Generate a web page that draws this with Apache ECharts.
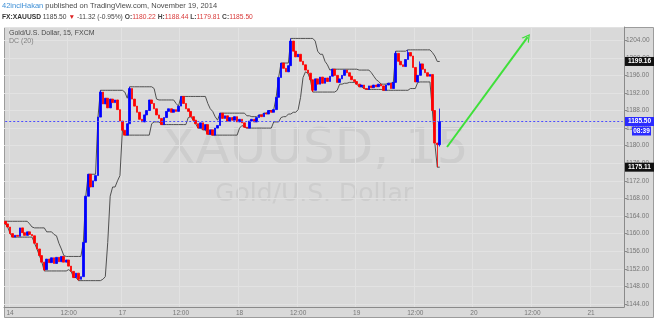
<!DOCTYPE html>
<html><head><meta charset="utf-8">
<script src="https://cdn.jsdelivr.net/npm/echarts@6/dist/echarts.min.js"></script>
<style>html,body{margin:0;padding:0;background:#fff}#c{width:654px;height:321px}</style>
</head><body><div id="c"></div><script>
// ---- data (30-minute bars, FX:XAUUSD) ----
const firstOpen = 1162.8;
const closes = [
 1162.2,1161.5,1160.0,1159.2,1159.6,1159.4,1161.3,1160.2,1159.6,1160.4,
 1159.8,1159.5,1157.8,1156.5,1155.0,1153.5,1151.8,1154.2,1153.4,1154.5,
 1153.2,1154.6,1153.6,1154.8,1153.5,1154.0,1152.6,1151.4,1150.0,1151.0,
 1149.6,1150.2,1158.0,1168.5,1173.5,1170.6,1172.0,1173.2,1186.5,1192.2,
 1189.5,1190.8,1188.6,1190.6,1189.8,1190.4,1188.2,1185.6,1183.5,1182.4,
 1185.0,1193.0,1190.6,1189.0,1187.6,1186.0,1185.4,1187.0,1188.0,1190.4,
 1189.6,1188.4,1187.0,1186.2,1184.8,1186.4,1187.8,1188.4,1187.6,1188.2,
 1187.8,1189.0,1191.2,1189.6,1188.4,1187.8,1186.6,1185.8,1185.0,1184.0,
 1185.2,1183.6,1184.8,1182.6,1183.6,1182.4,1184.0,1184.6,1187.4,1186.2,
 1186.8,1185.6,1186.4,1185.8,1186.6,1185.4,1186.0,1185.2,1184.2,1184.0,
 1185.6,1186.0,1185.4,1186.4,1187.0,1186.6,1187.4,1187.2,1188.0,1187.6,
 1188.2,1191.0,1195.5,1198.8,1197.6,1196.8,1198.2,1203.8,1201.5,1200.2,
 1200.8,1199.2,1198.4,1197.2,1196.5,1195.0,1192.6,1195.2,1194.0,1195.6,
 1194.2,1195.4,1194.6,1195.8,1197.4,1196.0,1194.4,1195.2,1196.0,1197.2,
 1196.6,1195.8,1195.0,1194.6,1194.0,1193.4,1193.8,1193.0,1192.8,1193.6,
 1193.2,1193.8,1193.4,1194.0,1193.6,1192.6,1193.8,1194.2,1193.0,1194.4,
 1201.0,1199.2,1198.4,1198.0,1199.6,1201.2,1200.4,1197.8,1194.5,1196.0,
 1198.6,1197.4,1196.6,1195.8,1196.2,1188.0,1180.6,1180.22,1185.5
];
// notable wick extremes [barIndex, price]
const wickHighs = [[39,1192.6],[51,1193.4],[117,1204.4],[160,1201.5],[165,1201.8],[170,1199.16],[178,1188.44]];
const wickLows  = [[16,1151.5],[30,1149.3],[126,1192.2],[177,1175.11],[178,1179.81]];
const dcPeriod = 10;            // DC(20) on 15-minute bars = 10 thirty-minute bars
const lastPrice = 1185.50;
const countdown = '08:39';
const arrowStart = [181, 1179.7];
const arrowEnd   = [214, 1204.7];
const yMin = 1143.3, yMax = 1207.0, yStep = 4;
const headerUser = '42inciHakan';
const headerPub = ' published on TradingView.com, November 19, 2014';
const quote = {sym:'FX:XAUUSD', last:'1185.50', chg:'-11.32 (-0.95%)', o:'1180.22', h:'1188.44', l:'1179.81', c:'1185.50'};
const panelTitle = 'Gold/U.S. Dollar, 15, FXCM';
const indicatorTitle = 'DC (20)';
const watermark1 = 'XAUUSD, 15';
const watermark2 = 'Gold/U.S. Dollar';

// ---- time slots ----
const sessionStart = Date.UTC(2014,10,13,23,0);
const weekendClose = Date.UTC(2014,10,14,21,30);
const weekendOpen  = Date.UTC(2014,10,16,23,0);
const barMs = 30*60000, slotCount = 254;
const times = []; let t = sessionStart;
for (let k=0;k<slotCount;k++){ times.push(t); t += barMs; if (t > weekendClose && t < weekendOpen) t = weekendOpen; }
const cats = times.map(String);
function slotLabel(i){ const d=new Date(times[i]); const h=d.getUTCHours(), m=d.getUTCMinutes();
  if(h===0&&m===0) return String(d.getUTCDate()); if(h===12&&m===0) return '12:00'; return ''; }

// ---- OHLC ----
const opens = closes.map((c,i)=> i===0 ? firstOpen : closes[i-1]);
const highs = closes.map((c,i)=> Math.max(c, opens[i]));
const lows  = closes.map((c,i)=> Math.min(c, opens[i]));
wickHighs.forEach(([i,v])=>{ highs[i]=Math.max(highs[i],v); });
wickLows.forEach(([i,v])=>{ lows[i]=Math.min(lows[i],v); });
const ohlc = closes.map((c,i)=>[opens[i], c, lows[i], highs[i]]);
const dcUp=[], dcLo=[];
for(let i=0;i<closes.length;i++){ const s=Math.max(0,i-dcPeriod+1);
  dcUp.push(Math.max(...highs.slice(s,i+1))); dcLo.push(Math.min(...lows.slice(s,i+1))); }

const FONT = 'Liberation Sans, Arial, sans-serif';
const chart = echarts.init(document.getElementById('c'));
const chevron = 'path://M0,10 L5,0 L10,10 L8.4,10 L5,3.2 L1.6,10 Z';
const priceLineStyle = {color:'#4d4dff',type:[2,2],width:1,opacity:1};
chart.setOption({
  animation:false,
  grid:{left:4,right:30,top:27,bottom:14,backgroundColor:'transparent'},
  xAxis:{type:'category',data:cats,boundaryGap:true,
    axisLine:{lineStyle:{color:'#8a8a8a'}},axisTick:{show:false},
    axisLabel:{interval:(i)=>slotLabel(i)!=='',formatter:(v,i)=>slotLabel(i),color:'#777',fontSize:6.5,fontFamily:FONT,margin:3},
    splitLine:{show:true,interval:(i)=>slotLabel(i)!=='',lineStyle:{color:'#e2e2e2',width:1}}},
  yAxis:{type:'value',position:'right',min:yMin,max:yMax,minInterval:yStep,maxInterval:yStep,scale:true,
    axisLine:{show:true,lineStyle:{color:'#8a8a8a'}},axisTick:{show:true,length:3,lineStyle:{color:'#8a8a8a'}},
    axisLabel:{showMinLabel:false,showMaxLabel:false,formatter:v=>v.toFixed(2),color:'#777',fontSize:6.5,fontFamily:FONT,margin:2},
    splitLine:{show:true,lineStyle:{color:'#e2e2e2',width:1}}},
  series:[
    {type:'line',data:dcUp,symbol:'none',color:'#505050',lineStyle:{color:'#505050',width:1},z:3,silent:true},
    {type:'line',data:dcLo,symbol:'none',color:'#505050',lineStyle:{color:'#505050',width:1},z:3,silent:true},
    {type:'candlestick',data:ohlc,barWidth:2.2,z:4,
      itemStyle:{color:'#0000ff',color0:'#ff0000',borderColor:'#0000ff',borderColor0:'#ff0000',borderWidth:0.8},
      markLine:{silent:true,animation:false,symbol:'none',label:{show:false},
        data:[
          [{coord:[0,lastPrice],symbol:'none',lineStyle:priceLineStyle,itemStyle:{color:'#4d4dff'}},
           {coord:[cats.length-1,lastPrice],symbol:'none',lineStyle:priceLineStyle,itemStyle:{color:'#4d4dff'}}],
          [{coord:arrowStart,symbol:'none',lineStyle:{color:'#3fe03a',width:2,type:'solid'}},
           {coord:arrowEnd,symbol:chevron,symbolSize:[9,8],lineStyle:{color:'#3fe03a',width:2,type:'solid'}}]
        ]}}
  ]
});

const yOf = v => chart.convertToPixel({yAxisIndex:0}, v);
const yTop = yOf(yMax), yBot = yOf(yMin);
function tag(v, bg, txt){ const y=yOf(v); return [
  {type:'rect',shape:{x:625,y:y-4.5,width:29,height:9},style:{fill:bg},z:20},
  {type:'text',x:639.5,y:y,style:{text:txt,fill:'#fff',font:'bold 6.5px '+FONT,textAlign:'center',textVerticalAlign:'middle'},z:21}]; }
const last = closes.length-1;
const g = [
  {type:'rect',shape:{x:4.5,y:yTop+0.5,width:649,height:290},style:{fill:'#d9d9d9',stroke:'#9c9c9c',lineWidth:1},z:-20},
  {type:'text',x:315,y:150,style:{text:watermark1,fill:'#cdcdcd',font:'50px DejaVu Sans',textAlign:'center',textVerticalAlign:'middle'},z:-10},
  {type:'text',x:314,y:194,style:{text:watermark2,fill:'#cdcdcd',font:'25px DejaVu Sans',textAlign:'center',textVerticalAlign:'middle'},z:-10},
  {type:'text',x:9,y:yTop+6,style:{text:panelTitle,fill:'#4a4a4a',font:'7px '+FONT,textVerticalAlign:'middle'},z:10},
  {type:'text',x:9,y:yTop+14,style:{text:indicatorTitle,fill:'#808080',font:'7px '+FONT,textVerticalAlign:'middle'},z:10},
  {type:'text',x:2,y:6,style:{text:'{u|'+headerUser+'}{p|'+headerPub+'}',textVerticalAlign:'middle',
     rich:{u:{fill:'#3d8fd6',font:'7.5px '+FONT},p:{fill:'#4a4a4a',font:'7.5px '+FONT}}},z:10},
  {type:'text',x:2,y:17,style:{text:'{s|'+quote.sym+' }{n|'+quote.last+' }{d|▼ }{n|'+quote.chg+' }{k|O:}{v|'+quote.o+' }{k|H:}{v|'+quote.h+' }{k|L:}{v|'+quote.l+' }{k|C:}{v|'+quote.c+'}',
     textVerticalAlign:'middle',
     rich:{s:{fill:'#333',font:'bold 6.7px '+FONT},n:{fill:'#444',font:'6.7px '+FONT},d:{fill:'#d22',font:'6.7px '+FONT},
           k:{fill:'#444',font:'bold 6.7px '+FONT},v:{fill:'#d83a3a',font:'6.7px '+FONT}}},z:10},
  ...tag(dcUp[last],'#111',dcUp[last].toFixed(2)),
  ...tag(dcLo[last],'#111',dcLo[last].toFixed(2)),
  ...tag(lastPrice,'#2b2bff',lastPrice.toFixed(2)),
  {type:'rect',shape:{x:632,y:yOf(lastPrice)+5,width:19,height:9},style:{fill:'#2b2bff'},z:20},
  {type:'text',x:641.5,y:yOf(lastPrice)+9.5,style:{text:countdown,fill:'#fff',font:'bold 6.5px '+FONT,textAlign:'center',textVerticalAlign:'middle'},z:21}
];
chart.setOption({graphic:g});
</script></body></html>
